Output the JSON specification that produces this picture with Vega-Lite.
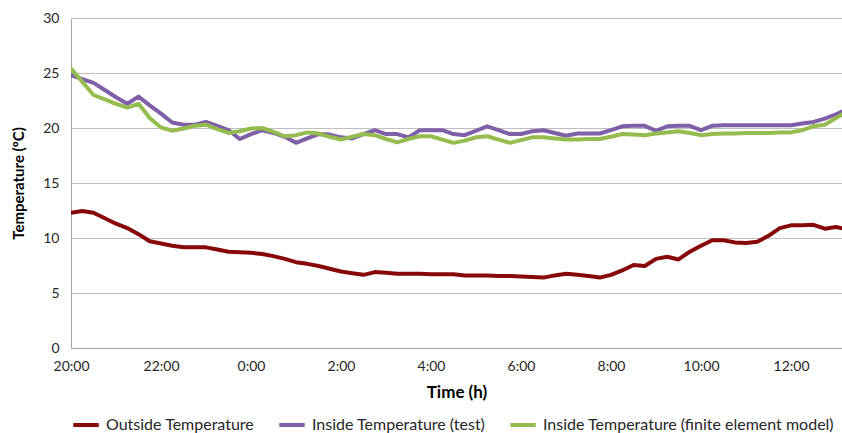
{
  "$schema": "https://vega.github.io/schema/vega-lite/v6.json",
  "autosize": {"type": "none"},
  "width": 771,
  "height": 330,
  "padding": {"left": 71, "top": 18, "right": 0, "bottom": 85},
  "background": "white",
  "config": {
    "view": {"stroke": null},
    "font": "Lato",
    "axis": {"labelFont": "Lato", "titleFont": "Lato", "labelColor": "#262626", "titleColor": "#000000"},
    "legend": {"labelFont": "Lato"}
  },
  "data": {"values": [
    {"t": "2020-01-01T20:00:00", "Outside Temperature": 12.3, "Inside Temperature (test)": 24.8, "Inside Temperature (finite element model)": 25.4},
    {"t": "2020-01-01T20:15:00", "Outside Temperature": 12.45, "Inside Temperature (test)": 24.45, "Inside Temperature (finite element model)": 24.2},
    {"t": "2020-01-01T20:30:00", "Outside Temperature": 12.3, "Inside Temperature (test)": 24.1, "Inside Temperature (finite element model)": 23.0},
    {"t": "2020-01-01T20:45:00", "Outside Temperature": 11.8, "Inside Temperature (test)": 23.45, "Inside Temperature (finite element model)": 22.6},
    {"t": "2020-01-01T21:00:00", "Outside Temperature": 11.3, "Inside Temperature (test)": 22.8, "Inside Temperature (finite element model)": 22.2},
    {"t": "2020-01-01T21:15:00", "Outside Temperature": 10.9, "Inside Temperature (test)": 22.2, "Inside Temperature (finite element model)": 21.85},
    {"t": "2020-01-01T21:30:00", "Outside Temperature": 10.35, "Inside Temperature (test)": 22.85, "Inside Temperature (finite element model)": 22.2},
    {"t": "2020-01-01T21:45:00", "Outside Temperature": 9.7, "Inside Temperature (test)": 22.05, "Inside Temperature (finite element model)": 20.9},
    {"t": "2020-01-01T22:00:00", "Outside Temperature": 9.5, "Inside Temperature (test)": 21.3, "Inside Temperature (finite element model)": 20.05},
    {"t": "2020-01-01T22:15:00", "Outside Temperature": 9.3, "Inside Temperature (test)": 20.5, "Inside Temperature (finite element model)": 19.75},
    {"t": "2020-01-01T22:30:00", "Outside Temperature": 9.15, "Inside Temperature (test)": 20.3, "Inside Temperature (finite element model)": 19.95},
    {"t": "2020-01-01T22:45:00", "Outside Temperature": 9.15, "Inside Temperature (test)": 20.3, "Inside Temperature (finite element model)": 20.2},
    {"t": "2020-01-01T23:00:00", "Outside Temperature": 9.15, "Inside Temperature (test)": 20.55, "Inside Temperature (finite element model)": 20.3},
    {"t": "2020-01-01T23:15:00", "Outside Temperature": 8.95, "Inside Temperature (test)": 20.2, "Inside Temperature (finite element model)": 19.9},
    {"t": "2020-01-01T23:30:00", "Outside Temperature": 8.75, "Inside Temperature (test)": 19.8, "Inside Temperature (finite element model)": 19.55},
    {"t": "2020-01-01T23:45:00", "Outside Temperature": 8.7, "Inside Temperature (test)": 19.0, "Inside Temperature (finite element model)": 19.7},
    {"t": "2020-01-02T00:00:00", "Outside Temperature": 8.65, "Inside Temperature (test)": 19.45, "Inside Temperature (finite element model)": 19.95},
    {"t": "2020-01-02T00:15:00", "Outside Temperature": 8.55, "Inside Temperature (test)": 19.8, "Inside Temperature (finite element model)": 20.0},
    {"t": "2020-01-02T00:30:00", "Outside Temperature": 8.35, "Inside Temperature (test)": 19.55, "Inside Temperature (finite element model)": 19.65},
    {"t": "2020-01-02T00:45:00", "Outside Temperature": 8.1, "Inside Temperature (test)": 19.2, "Inside Temperature (finite element model)": 19.25},
    {"t": "2020-01-02T01:00:00", "Outside Temperature": 7.8, "Inside Temperature (test)": 18.65, "Inside Temperature (finite element model)": 19.35},
    {"t": "2020-01-02T01:15:00", "Outside Temperature": 7.65, "Inside Temperature (test)": 19.05, "Inside Temperature (finite element model)": 19.6},
    {"t": "2020-01-02T01:30:00", "Outside Temperature": 7.45, "Inside Temperature (test)": 19.45, "Inside Temperature (finite element model)": 19.5},
    {"t": "2020-01-02T01:45:00", "Outside Temperature": 7.2, "Inside Temperature (test)": 19.4, "Inside Temperature (finite element model)": 19.2},
    {"t": "2020-01-02T02:00:00", "Outside Temperature": 6.95, "Inside Temperature (test)": 19.15, "Inside Temperature (finite element model)": 18.95},
    {"t": "2020-01-02T02:15:00", "Outside Temperature": 6.8, "Inside Temperature (test)": 19.05, "Inside Temperature (finite element model)": 19.2},
    {"t": "2020-01-02T02:30:00", "Outside Temperature": 6.65, "Inside Temperature (test)": 19.45, "Inside Temperature (finite element model)": 19.45},
    {"t": "2020-01-02T02:45:00", "Outside Temperature": 6.9, "Inside Temperature (test)": 19.8, "Inside Temperature (finite element model)": 19.35},
    {"t": "2020-01-02T03:00:00", "Outside Temperature": 6.85, "Inside Temperature (test)": 19.45, "Inside Temperature (finite element model)": 19.0},
    {"t": "2020-01-02T03:15:00", "Outside Temperature": 6.75, "Inside Temperature (test)": 19.45, "Inside Temperature (finite element model)": 18.7},
    {"t": "2020-01-02T03:30:00", "Outside Temperature": 6.75, "Inside Temperature (test)": 19.15, "Inside Temperature (finite element model)": 19.0},
    {"t": "2020-01-02T03:45:00", "Outside Temperature": 6.75, "Inside Temperature (test)": 19.8, "Inside Temperature (finite element model)": 19.25},
    {"t": "2020-01-02T04:00:00", "Outside Temperature": 6.7, "Inside Temperature (test)": 19.8, "Inside Temperature (finite element model)": 19.25},
    {"t": "2020-01-02T04:15:00", "Outside Temperature": 6.7, "Inside Temperature (test)": 19.8, "Inside Temperature (finite element model)": 18.95},
    {"t": "2020-01-02T04:30:00", "Outside Temperature": 6.7, "Inside Temperature (test)": 19.45, "Inside Temperature (finite element model)": 18.65},
    {"t": "2020-01-02T04:45:00", "Outside Temperature": 6.6, "Inside Temperature (test)": 19.35, "Inside Temperature (finite element model)": 18.85},
    {"t": "2020-01-02T05:00:00", "Outside Temperature": 6.6, "Inside Temperature (test)": 19.75, "Inside Temperature (finite element model)": 19.15},
    {"t": "2020-01-02T05:15:00", "Outside Temperature": 6.6, "Inside Temperature (test)": 20.15, "Inside Temperature (finite element model)": 19.25},
    {"t": "2020-01-02T05:30:00", "Outside Temperature": 6.55, "Inside Temperature (test)": 19.8, "Inside Temperature (finite element model)": 18.95},
    {"t": "2020-01-02T05:45:00", "Outside Temperature": 6.55, "Inside Temperature (test)": 19.45, "Inside Temperature (finite element model)": 18.65},
    {"t": "2020-01-02T06:00:00", "Outside Temperature": 6.5, "Inside Temperature (test)": 19.45, "Inside Temperature (finite element model)": 18.9},
    {"t": "2020-01-02T06:15:00", "Outside Temperature": 6.45, "Inside Temperature (test)": 19.7, "Inside Temperature (finite element model)": 19.15},
    {"t": "2020-01-02T06:30:00", "Outside Temperature": 6.4, "Inside Temperature (test)": 19.8, "Inside Temperature (finite element model)": 19.15},
    {"t": "2020-01-02T06:45:00", "Outside Temperature": 6.6, "Inside Temperature (test)": 19.55, "Inside Temperature (finite element model)": 19.05},
    {"t": "2020-01-02T07:00:00", "Outside Temperature": 6.75, "Inside Temperature (test)": 19.3, "Inside Temperature (finite element model)": 18.95},
    {"t": "2020-01-02T07:15:00", "Outside Temperature": 6.65, "Inside Temperature (test)": 19.5, "Inside Temperature (finite element model)": 18.95},
    {"t": "2020-01-02T07:30:00", "Outside Temperature": 6.55, "Inside Temperature (test)": 19.5, "Inside Temperature (finite element model)": 19.0},
    {"t": "2020-01-02T07:45:00", "Outside Temperature": 6.4, "Inside Temperature (test)": 19.5, "Inside Temperature (finite element model)": 19.0},
    {"t": "2020-01-02T08:00:00", "Outside Temperature": 6.65, "Inside Temperature (test)": 19.8, "Inside Temperature (finite element model)": 19.2},
    {"t": "2020-01-02T08:15:00", "Outside Temperature": 7.05, "Inside Temperature (test)": 20.15, "Inside Temperature (finite element model)": 19.45},
    {"t": "2020-01-02T08:30:00", "Outside Temperature": 7.55, "Inside Temperature (test)": 20.2, "Inside Temperature (finite element model)": 19.4},
    {"t": "2020-01-02T08:45:00", "Outside Temperature": 7.45, "Inside Temperature (test)": 20.2, "Inside Temperature (finite element model)": 19.35},
    {"t": "2020-01-02T09:00:00", "Outside Temperature": 8.1, "Inside Temperature (test)": 19.75, "Inside Temperature (finite element model)": 19.5},
    {"t": "2020-01-02T09:15:00", "Outside Temperature": 8.3, "Inside Temperature (test)": 20.15, "Inside Temperature (finite element model)": 19.6},
    {"t": "2020-01-02T09:30:00", "Outside Temperature": 8.05, "Inside Temperature (test)": 20.2, "Inside Temperature (finite element model)": 19.7},
    {"t": "2020-01-02T09:45:00", "Outside Temperature": 8.75, "Inside Temperature (test)": 20.2, "Inside Temperature (finite element model)": 19.55},
    {"t": "2020-01-02T10:00:00", "Outside Temperature": 9.3, "Inside Temperature (test)": 19.8, "Inside Temperature (finite element model)": 19.35},
    {"t": "2020-01-02T10:15:00", "Outside Temperature": 9.8, "Inside Temperature (test)": 20.2, "Inside Temperature (finite element model)": 19.45},
    {"t": "2020-01-02T10:30:00", "Outside Temperature": 9.8, "Inside Temperature (test)": 20.25, "Inside Temperature (finite element model)": 19.5},
    {"t": "2020-01-02T10:45:00", "Outside Temperature": 9.6, "Inside Temperature (test)": 20.25, "Inside Temperature (finite element model)": 19.5},
    {"t": "2020-01-02T11:00:00", "Outside Temperature": 9.55, "Inside Temperature (test)": 20.25, "Inside Temperature (finite element model)": 19.55},
    {"t": "2020-01-02T11:15:00", "Outside Temperature": 9.65, "Inside Temperature (test)": 20.25, "Inside Temperature (finite element model)": 19.55},
    {"t": "2020-01-02T11:30:00", "Outside Temperature": 10.2, "Inside Temperature (test)": 20.25, "Inside Temperature (finite element model)": 19.55},
    {"t": "2020-01-02T11:45:00", "Outside Temperature": 10.9, "Inside Temperature (test)": 20.25, "Inside Temperature (finite element model)": 19.6},
    {"t": "2020-01-02T12:00:00", "Outside Temperature": 11.15, "Inside Temperature (test)": 20.25, "Inside Temperature (finite element model)": 19.6},
    {"t": "2020-01-02T12:15:00", "Outside Temperature": 11.15, "Inside Temperature (test)": 20.4, "Inside Temperature (finite element model)": 19.8},
    {"t": "2020-01-02T12:30:00", "Outside Temperature": 11.2, "Inside Temperature (test)": 20.55, "Inside Temperature (finite element model)": 20.15},
    {"t": "2020-01-02T12:45:00", "Outside Temperature": 10.85, "Inside Temperature (test)": 20.85, "Inside Temperature (finite element model)": 20.3},
    {"t": "2020-01-02T13:00:00", "Outside Temperature": 11.0, "Inside Temperature (test)": 21.25, "Inside Temperature (finite element model)": 20.9},
    {"t": "2020-01-02T13:15:00", "Outside Temperature": 10.8, "Inside Temperature (test)": 21.7, "Inside Temperature (finite element model)": 21.5}
  ]},
  "transform": [
    {"fold": ["Outside Temperature", "Inside Temperature (test)", "Inside Temperature (finite element model)"], "as": ["series", "temp"]}
  ],
  "mark": {"type": "line", "strokeWidth": 4, "strokeJoin": "round", "strokeCap": "round", "clip": true},
  "encoding": {
    "x": {
      "field": "t",
      "type": "temporal",
      "scale": {"domain": [{"year": 2020, "month": 1, "date": 1, "hours": 20}, {"year": 2020, "month": 1, "date": 2, "hours": 13, "minutes": 8}], "nice": false},
      "axis": {
        "title": "Time (h)",
        "format": "%-H:%M",
        "values": [
          {"year": 2020, "month": 1, "date": 1, "hours": 20},
          {"year": 2020, "month": 1, "date": 1, "hours": 22},
          {"year": 2020, "month": 1, "date": 2, "hours": 0},
          {"year": 2020, "month": 1, "date": 2, "hours": 2},
          {"year": 2020, "month": 1, "date": 2, "hours": 4},
          {"year": 2020, "month": 1, "date": 2, "hours": 6},
          {"year": 2020, "month": 1, "date": 2, "hours": 8},
          {"year": 2020, "month": 1, "date": 2, "hours": 10},
          {"year": 2020, "month": 1, "date": 2, "hours": 12}
        ],
        "labelFlush": false,
        "labelOverlap": false,
        "ticks": false,
        "grid": false,
        "labelFontSize": 14,
        "labelPadding": 11,
        "titleFontSize": 17,
        "titleFontWeight": "bold",
        "titlePadding": 11,
        "domainColor": "#A6A6A6",
        "domainWidth": 1
      }
    },
    "y": {
      "field": "temp",
      "type": "quantitative",
      "scale": {"domain": [0, 30], "nice": false},
      "axis": {
        "title": "Temperature (ºC)",
        "values": [0, 5, 10, 15, 20, 25, 30],
        "ticks": false,
        "labelFontSize": 14,
        "labelPadding": 12,
        "titleFontSize": 15,
        "titleFontWeight": "bold",
        "titlePadding": 16,
        "gridColor": "#BFBFBF",
        "gridWidth": 1,
        "domainColor": "#A6A6A6",
        "domainWidth": 1
      }
    },
    "color": {
      "field": "series",
      "type": "nominal",
      "scale": {
        "domain": ["Outside Temperature", "Inside Temperature (test)", "Inside Temperature (finite element model)"],
        "range": ["#870808", "#7F5FA8", "#95BC4F"]
      },
      "legend": {
        "title": null,
        "orient": "bottom",
        "direction": "horizontal",
        "symbolType": "stroke",
        "symbolStrokeWidth": 4,
        "symbolSize": 650,
        "labelFontSize": 16,
        "labelColor": "#262626",
        "columnPadding": 16,
        "labelOffset": 5,
        "offset": 10,
        "labelLimit": 400
      }
    }
  }
}
